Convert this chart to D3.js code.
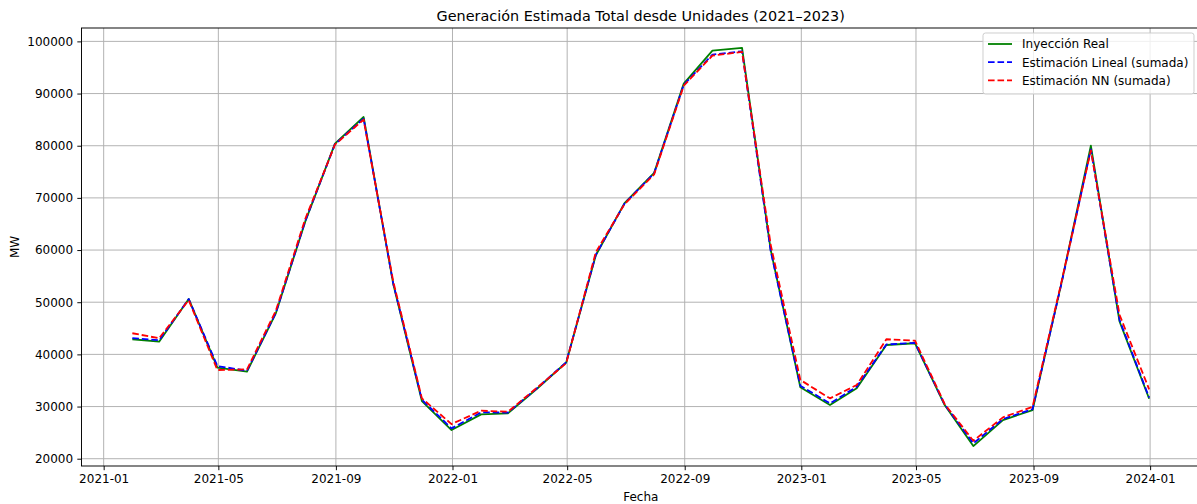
<!DOCTYPE html>
<html>
<head>
<meta charset="utf-8">
<script src="https://cdn.jsdelivr.net/npm/d3@7"></script>
<style>
  html, body { margin: 0; padding: 0; background: #ffffff; }
  svg { display: block; font-family: "DejaVu Sans", sans-serif; }
</style>
</head>
<body>
<svg id="chart" width="1197" height="504"></svg>
<script>
// Monthly totals (MW), month-end dates
const fechas = [
  "2021-01-31","2021-02-28","2021-03-31","2021-04-30","2021-05-31","2021-06-30",
  "2021-07-31","2021-08-31","2021-09-30","2021-10-31","2021-11-30","2021-12-31",
  "2022-01-31","2022-02-28","2022-03-31","2022-04-30","2022-05-31","2022-06-30",
  "2022-07-31","2022-08-31","2022-09-30","2022-10-31","2022-11-30","2022-12-31",
  "2023-01-31","2023-02-28","2023-03-31","2023-04-30","2023-05-31","2023-06-30",
  "2023-07-31","2023-08-31","2023-09-30","2023-10-31","2023-11-30","2023-12-31"
];

const inyeccionReal = [
  42900, 42440, 50630, 37450, 36680, 47800,
  65500, 80400, 85500, 53500, 31050, 25490,
  28500, 28690, 33500, 38450, 59000, 69000,
  74800, 91900, 98230, 98750, 60000, 33680,
  30290, 33490, 41800, 42130, 30290, 22420,
  27410, 29330, 53500, 80000, 46300, 31500
];

const estimacionLineal = [
  43100, 42700, 50600, 37770, 36870, 47900,
  65600, 80300, 85200, 53600, 31300, 25810,
  28880, 28850, 33600, 38500, 59100, 68900,
  74700, 91700, 97470, 98100, 59800, 34000,
  30610, 33800, 41900, 42200, 30400, 22940,
  27600, 29500, 53400, 79300, 46600, 31700
];

const estimacionNN = [
  44050, 43090, 50400, 37000, 37140, 48300,
  66000, 80200, 85000, 54000, 31570, 26640,
  29200, 29000, 33700, 38300, 59600, 68800,
  74500, 91520, 97270, 97980, 61000, 35100,
  31570, 34130, 42900, 42630, 30500, 23440,
  27930, 29960, 53700, 79100, 47600, 33300
];

const yTicks = [20000, 30000, 40000, 50000, 60000, 70000, 80000, 90000, 100000];
const xTickFechas = ["2021-01-01","2021-05-01","2021-09-01","2022-01-01","2022-05-01",
                     "2022-09-01","2023-01-01","2023-05-01","2023-09-01","2024-01-01"];

const series = [
  { nombre: "Inyección Real", valores: inyeccionReal, color: "#008000", dash: null },
  { nombre: "Estimación Lineal (sumada)", valores: estimacionLineal, color: "#0000ff", dash: "6.6,2.9" },
  { nombre: "Estimación NN (sumada)", valores: estimacionNN, color: "#ff0000", dash: "6.6,2.9" }
];

const parse = d3.utcParse("%Y-%m-%d");
const fechasD = fechas.map(parse);

const svg = d3.select("#chart");
const margin = { left: 81.5, top: 28, right: -3, bottom: 38 };
const W = 1197, H = 504;
const x0 = margin.left, x1 = W - margin.right;
const y0 = margin.top, y1 = H - margin.bottom;

// 5% padding on both axes
const tExt = d3.extent(fechasD);
const tPad = (tExt[1] - tExt[0]) * 0.05;
const allVals = series.flatMap(s => s.valores);
const vExt = d3.extent(allVals);
const vPad = (vExt[1] - vExt[0]) * 0.05;

const x = d3.scaleUtc()
  .domain([new Date(+tExt[0] - tPad), new Date(+tExt[1] + tPad)])
  .range([x0, x1]);
const y = d3.scaleLinear()
  .domain([vExt[0] - vPad, vExt[1] + vPad])
  .range([y1, y0]);

const xTicks = xTickFechas.map(parse);
const fmtX = d3.utcFormat("%Y-%m");

// grid
const grid = svg.append("g").attr("stroke", "#b0b0b0").attr("stroke-width", 0.96);
grid.selectAll("line.gx").data(xTicks).join("line")
  .attr("x1", d => x(d)).attr("x2", d => x(d))
  .attr("y1", y0).attr("y2", y1);
grid.selectAll("line.gy").data(yTicks).join("line")
  .attr("x1", x0).attr("x2", x1)
  .attr("y1", d => y(d)).attr("y2", d => y(d));

// axes
const xAxis = d3.axisBottom(x).tickValues(xTicks).tickFormat(fmtX)
  .tickSizeInner(4.2).tickSizeOuter(0).tickPadding(4.2);
const yAxis = d3.axisLeft(y).tickValues(yTicks).tickFormat(d3.format("d"))
  .tickSizeInner(4.2).tickSizeOuter(0).tickPadding(4.2);

const gx = svg.append("g").attr("transform", `translate(0,${y1})`).call(xAxis);
const gy = svg.append("g").attr("transform", `translate(${x0},0)`).call(yAxis);
[gx, gy].forEach(g => {
  g.select(".domain").remove();
  g.selectAll(".tick line").attr("stroke", "#000").attr("stroke-width", 0.96);
  g.selectAll(".tick text").attr("fill", "#000").style("font-size", "12px")
    .style("font-family", "DejaVu Sans, sans-serif");
});

// lines
const line = d3.line().x((d, i) => x(fechasD[i])).y(d => y(d));
series.forEach(s => {
  svg.append("path")
    .datum(s.valores)
    .attr("fill", "none")
    .attr("stroke", s.color)
    .attr("stroke-width", 1.8)
    .attr("stroke-linejoin", "round")
    .attr("stroke-dasharray", s.dash)
    .attr("d", line);
});

// frame
svg.append("rect")
  .attr("x", x0).attr("y", y0)
  .attr("width", x1 - x0).attr("height", y1 - y0)
  .attr("fill", "none").attr("stroke", "#000").attr("stroke-width", 0.96);

// title and axis labels
svg.append("text")
  .attr("x", (x0 + x1) / 2).attr("y", y0 - 7)
  .attr("text-anchor", "middle")
  .style("font-size", "14.4px")
  .text("Generación Estimada Total desde Unidades (2021–2023)");

svg.append("text")
  .attr("x", (x0 + x1) / 2).attr("y", 501)
  .attr("text-anchor", "middle")
  .style("font-size", "12px")
  .text("Fecha");

svg.append("text")
  .attr("transform", `translate(19,${(y0 + y1) / 2}) rotate(-90)`)
  .attr("text-anchor", "middle")
  .style("font-size", "12px")
  .text("MW");

// legend
const fs = 12;
const legendW = 211, rowH = 18.2;
const legendH = 0.4 * fs * 2 + rowH * series.length - (rowH - fs * 1.15);
const lx = x1 - 6 - legendW, ly = y0 + 5;
const lg = svg.append("g").attr("transform", `translate(${lx},${ly})`);
lg.append("rect")
  .attr("width", legendW).attr("height", 61)
  .attr("rx", 2.5).attr("ry", 2.5)
  .attr("fill", "#ffffff").attr("fill-opacity", 0.8)
  .attr("stroke", "#cccccc").attr("stroke-width", 0.96);
series.forEach((s, i) => {
  const cy = 11 + i * rowH;
  lg.append("line")
    .attr("x1", 5).attr("x2", 29)
    .attr("y1", cy).attr("y2", cy)
    .attr("stroke", s.color).attr("stroke-width", 1.8)
    .attr("stroke-dasharray", s.dash);
  lg.append("text")
    .attr("x", 39).attr("y", cy)
    .attr("dy", "0.36em")
    .style("font-size", fs + "px")
    .text(s.nombre);
});
</script>
</body>
</html>
